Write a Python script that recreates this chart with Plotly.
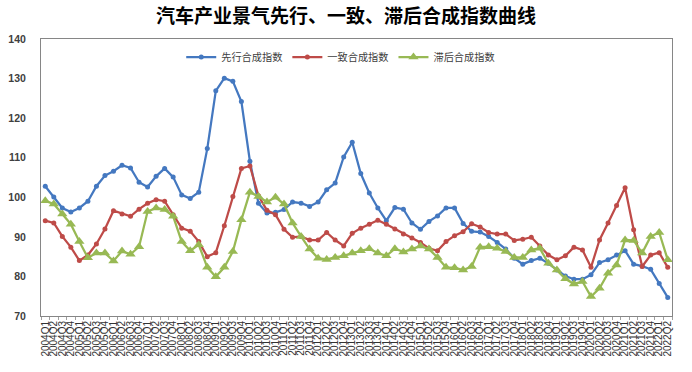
import plotly.graph_objects as go

quarters = [f"{y}Q{q}" for y in range(2004, 2023) for q in range(1, 5)][:74]

leading = [102.8, 100.1, 97.3, 96.3, 97.3, 99.0, 102.8, 105.5, 106.6, 108.1,
           107.4, 103.8, 102.6, 105.3, 107.3, 105.1, 100.6, 99.7, 101.3, 112.3,
           126.9, 130.1, 129.3, 124.2, 109.1, 98.5, 96.0, 96.2, 96.9, 98.8,
           98.5, 97.7, 98.8, 101.9, 103.6, 110.2, 113.9, 106.0, 101.1, 97.3,
           94.1, 97.4, 97.0, 93.5, 91.9, 93.9, 95.3, 97.3, 97.3, 93.4,
           91.4, 91.2, 90.1, 88.6, 86.9, 84.6, 83.1, 84.0, 84.6, 83.3,
           81.6, 80.1, 79.3, 79.3, 80.4, 83.5, 84.2, 85.4, 86.5, 83.1,
           82.6, 81.8, 78.2, 74.7]

coincident = [94.1, 93.5, 90.1, 87.4, 84.0, 85.4, 88.2, 92.0, 96.6, 95.8,
              95.2, 97.0, 98.5, 99.4, 99.0, 95.6, 92.2, 91.4, 88.8, 85.0,
              86.0, 92.8, 100.2, 107.3, 107.9, 100.4, 96.7, 95.6, 91.9, 89.9,
              90.1, 89.2, 89.2, 91.1, 89.2, 87.7, 90.9, 92.2, 93.2, 94.2,
              93.2, 92.0, 90.7, 89.7, 88.6, 87.1, 86.5, 88.8, 90.3, 91.3,
              93.3, 92.5, 91.1, 90.7, 90.7, 89.1, 89.4, 89.9, 87.7, 85.4,
              84.2, 85.2, 87.4, 86.7, 82.3, 89.2, 93.5, 97.9, 102.4, 91.8,
              82.5, 85.4, 86.0, 82.3]

lagging = [99.1, 98.3, 95.8, 93.2, 88.8, 84.7, 85.9, 85.9, 83.9, 86.4,
           85.6, 87.5, 96.4, 97.3, 96.9, 95.2, 88.8, 86.5, 88.0, 82.3,
           79.9, 82.3, 86.3, 94.3, 101.3, 100.2, 98.8, 100.0, 98.3, 93.5,
           90.1, 86.9, 84.6, 84.3, 84.8, 85.2, 85.9, 86.5, 87.0, 85.9,
           85.2, 87.0, 86.2, 86.9, 87.7, 86.9, 84.8, 82.3, 82.2, 81.6,
           82.5, 87.4, 87.5, 87.1, 86.3, 84.8, 84.8, 86.7, 87.1, 83.3,
           81.6, 79.4, 78.1, 78.7, 74.9, 77.0, 80.8, 82.9, 89.2, 89.1,
           85.9, 90.1, 91.1, 84.2]

names = ["先行合成指数", "一致合成指数", "滞后合成指数"]
colors = ["#4478C0", "#BE4B48", "#98B954"]

fig = go.Figure()
fig.add_trace(go.Scatter(x=quarters, y=leading, name=names[0], mode="lines+markers",
                         line=dict(color=colors[0], width=2.25),
                         marker=dict(symbol="circle", size=5, color=colors[0])))
fig.add_trace(go.Scatter(x=quarters, y=coincident, name=names[1], mode="lines+markers",
                         line=dict(color=colors[1], width=2.25),
                         marker=dict(symbol="circle", size=5, color=colors[1])))
fig.add_trace(go.Scatter(x=quarters, y=lagging, name=names[2], mode="lines+markers",
                         line=dict(color=colors[2], width=2.25),
                         marker=dict(symbol="triangle-up", size=9, color=colors[2])))

fig.update_layout(
    width=692, height=372,
    margin=dict(l=41, r=20, t=39, b=56, autoexpand=False),
    paper_bgcolor="white", plot_bgcolor="white",
    font=dict(family="Liberation Sans, Noto Sans CJK SC", color="#404040"),
    title=dict(text="<b>汽车产业景气先行、一致、滞后合成指数曲线</b>",
               x=0.5, xanchor="center", y=0.957, yanchor="middle",
               font=dict(family="Noto Sans CJK SC", size=19, color="#000000")),
    legend=dict(orientation="h", x=0.475, xanchor="center", y=0.935, yanchor="middle",
                font=dict(family="Noto Sans CJK SC", size=10.2, color="#404040"),
                bgcolor="rgba(0,0,0,0)", itemwidth=30),
    showlegend=True,
)
fig.update_xaxes(
    type="category", range=[-0.5, len(quarters) - 0.5],
    tickmode="array", tickvals=quarters, ticktext=quarters,
    tickangle=-90, tickfont=dict(family="Liberation Sans", size=10, color="#333333"),
    showline=True, linecolor="#868686", linewidth=1, mirror=True,
    ticks="outside", ticklen=3, tickcolor="#A0A0A0", tickson="boundaries",
    showgrid=False, zeroline=False, automargin=False,
)
fig.update_yaxes(
    range=[70, 140], dtick=10, tick0=70,
    tickfont=dict(family="Liberation Sans", size=10.5, color="#404040", weight="bold"),
    showline=True, linecolor="#868686", linewidth=1, mirror=True,
    ticks="outside", ticklen=12, tickcolor="rgba(0,0,0,0)",
    showgrid=False, zeroline=False, automargin=False,
)

fig.write_html("out.html", config={"displayModeBar": False},
               post_script="document.body.style.margin='0';")
